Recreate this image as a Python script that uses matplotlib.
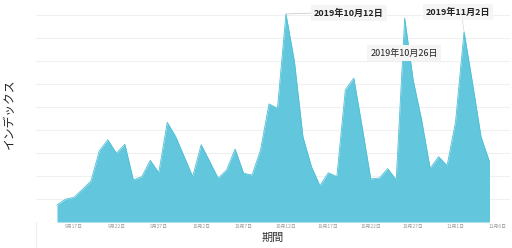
import numpy as np
import pandas as pd
import matplotlib
matplotlib.use("Agg")
import matplotlib.pyplot as plt

plt.rcParams["font.family"] = ["Noto Sans CJK JP", "DejaVu Sans"]

# daily index values, 2019-09-15 .. 2019-11-05
dates = pd.date_range("2019-09-15", "2019-11-05", freq="D")
values = [
    0.74, 0.99, 1.07, 1.42, 1.78, 3.10, 3.57, 2.99, 3.38, 1.83,
    1.97, 2.68, 2.14, 4.33, 3.71, 2.84, 1.97, 3.36, 2.64, 1.90,
    2.26, 3.17, 2.12, 2.04, 3.13, 5.13, 4.94, 9.04, 6.97, 3.71,
    2.41, 1.58, 2.14, 1.97, 5.74, 6.25, 4.10, 1.87, 1.91, 2.32,
    1.83, 8.86, 6.17, 4.43, 2.33, 2.84, 2.45, 4.36, 8.27, 6.04,
    3.71, 2.62,
]
tick_dates = pd.date_range("2019-09-17", "2019-11-06", freq="5D")
tick_labels = [f"{d.month}月{d.day}日" for d in tick_dates]

peaks = [
    ("2019-10-12", "2019年10月12日", "bold"),
    ("2019-10-26", "2019年10月26日", "normal"),
    ("2019-11-02", "2019年11月2日", "bold"),
]
# label box centres in figure pixels (from top-left)
label_pos = {
    "2019-10-12": (349, 13),
    "2019-10-26": (404, 53),
    "2019-11-02": (458, 12),
}

fig = plt.figure(figsize=(5.12, 2.48), dpi=100)
ax = fig.add_axes([36 / 512, 26 / 248, 474 / 512, 217 / 248])

ax.fill_between(dates, values, 0, color="#62c7dc", lw=0)
ax.plot(dates, values, color="#4fbfd6", lw=0.6)

ax.set_ylim(0, 9.43)
ax.set_xlim(pd.Timestamp("2019-09-12 12:34"), pd.Timestamp("2019-11-07 10:05"))
ax.set_yticks(np.arange(0, 10, 1))
ax.set_yticklabels([])
ax.tick_params(axis="y", length=0)
ax.grid(axis="y", color="#f0f0f0", lw=0.8)
ax.set_axisbelow(True)

ax.set_xticks(tick_dates)
ax.set_xticklabels(tick_labels, fontsize=3.5, color="#999999")
ax.tick_params(axis="x", length=0, pad=1.5)
for s in ax.spines.values():
    s.set_visible(False)
ax.plot([0, 0], [0, -0.12], transform=ax.transAxes, color="#eeeeee",
        lw=0.8, clip_on=False)

ax.set_xlabel("期間", fontsize=8, color="#333333", labelpad=3)
ax.set_ylabel("インデックス", fontsize=8.5, color="#222222", labelpad=11)

box = dict(boxstyle="square,pad=0.35", fc="#f5f5f5", ec="none")
for d, label, weight in peaks:
    i = list(dates).index(pd.Timestamp(d))
    px, py = label_pos[d]
    xt, yt = ax.transAxes.inverted().transform(
        fig.transFigure.transform((px / 512, 1 - py / 248)))
    if d == "2019-10-12":
        arrow = dict(arrowstyle="-", color="#cccccc", lw=0.6,
                     shrinkA=0, shrinkB=0, relpos=(0, 0.5))
    elif d == "2019-11-02":
        arrow = dict(arrowstyle="-", color="#dddddd", lw=0.6,
                     shrinkA=0, shrinkB=1, relpos=(0.56, 0))
    else:
        arrow = None
    ax.annotate(label, xy=(dates[i], values[i]), xytext=(xt, yt),
                textcoords="axes fraction", fontsize=6.5, fontweight=weight,
                ha="center", va="center", color="#222222",
                bbox=box, arrowprops=arrow, annotation_clip=False)

fig.savefig("out.png", dpi=100)
